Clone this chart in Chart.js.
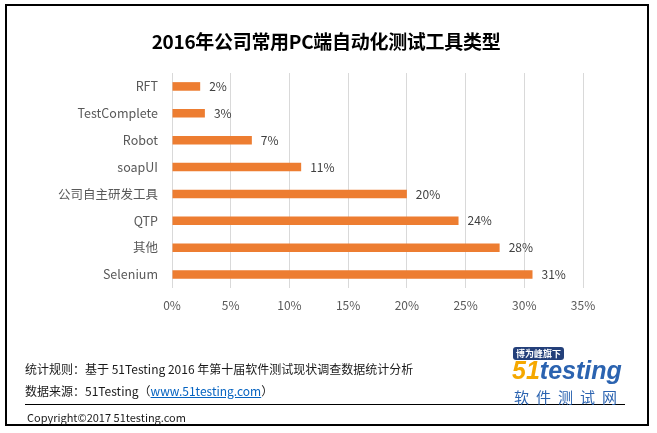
<!DOCTYPE html>
<html>
<head>
<meta charset="utf-8">
<script src="https://cdn.jsdelivr.net/npm/chart.js@4"></script>
<style>
    body { margin: 0; background: #fff; }
    #wrap { position: relative; width: 657px; height: 433px; overflow: hidden; font-family: "Noto Sans CJK SC", "Noto Sans", sans-serif; }
    #frame { position: absolute; left: 5px; top: 4px; width: 640px; height: 418px; border: 2px solid #000; }
    #myChart { position: absolute; left: 0; top: 0; }
    .txt { position: absolute; white-space: nowrap; color: #1a1a1a; }
    #title { left: 0; width: 652px; top: 27px; text-align: center; font-size: 19px; font-weight: bold; color: #000; letter-spacing: -0.3px; }
    #rule { left: 25px; top: 360px; font-size: 12px; }
    #src { left: 25px; top: 382px; font-size: 12px; }
    #src a { color: #0563c1; text-decoration: underline; }
    #sep { position: absolute; left: 25px; top: 404px; width: 600px; height: 1px; background: #000; }
    #copy { left: 27px; top: 409px; font-size: 11px; }
    #tag { left: 513px; top: 347px; font-size: 9px; font-weight: bold; color: #fff; background: #24407a; padding: 0 3px; border-radius: 3px; line-height: 13px; }
    #logo { left: 512px; top: 356px; font-size: 25px; font-weight: bold; font-style: italic; color: #2b63b0; font-family: "Liberation Sans", sans-serif; line-height: 28px; }
    #logo span { color: #f5a800; }
    #logocn { left: 514px; top: 386px; font-size: 15px; color: #2b63b0; letter-spacing: 7px; }
</style>
</head>
<body>
<div id="wrap">
    <canvas id="myChart" width="657" height="433"></canvas>
    <div id="frame"></div>
    <div class="txt" id="title">2016年公司常用PC端自动化测试工具类型</div>
    <div class="txt" id="rule">统计规则：基于 51Testing 2016 年第十届软件测试现状调查数据统计分析</div>
    <div class="txt" id="src">数据来源：51Testing（<a href="#">www.51testing.com</a>）</div>
    <div id="sep"></div>
    <div class="txt" id="copy">Copyright©2017 51testing.com</div>
    <div class="txt" id="tag">博为峰旗下</div>
    <div class="txt" id="logo"><span>51</span>testing</div>
    <div class="txt" id="logocn">软件测试网</div>
</div>
<script>
// 도구별 사용 비율 (%)
var categories = ['RFT', 'TestComplete', 'Robot', 'soapUI', '公司自主研发工具', 'QTP', '其他', 'Selenium'];
var values = [2.4, 2.8, 6.8, 11.0, 20.0, 24.4, 27.9, 30.7];
var xTicks = [0, 5, 10, 15, 20, 25, 30, 35];

var valueLabels = {
    id: 'valueLabels',
    afterDatasetsDraw: function (chart) {
        var ctx = chart.ctx;
        var meta = chart.getDatasetMeta(0);
        ctx.save();
        ctx.font = '12px "Noto Sans CJK SC", sans-serif';
        ctx.fillStyle = '#404040';
        ctx.textAlign = 'left';
        ctx.textBaseline = 'middle';
        meta.data.forEach(function (bar, i) {
            ctx.fillText(Math.round(values[i]) + '%', bar.x + 9, bar.y);
        });
        ctx.restore();
    }
};

const ctx = document.getElementById('myChart').getContext('2d');
const chart = new Chart(ctx, {
    type: 'bar',
    data: {
        labels: categories,
        datasets: [{
            data: values,
            backgroundColor: '#ed7d31',
            borderWidth: 0,
            categoryPercentage: 1,
            barPercentage: 0.32
        }]
    },
    options: {
        indexAxis: 'y',
        responsive: false,
        animation: false,
        layout: { padding: { top: 73, right: 74, bottom: 115, left: 0 } },
        plugins: {
            legend: { display: false },
            tooltip: { enabled: false }
        },
        scales: {
            x: {
                min: 0,
                max: 35,
                afterBuildTicks: function (scale) {
                    scale.ticks = xTicks.map(function (v) { return { value: v }; });
                },
                afterFit: function (scale) { scale.height = 30; },
                grid: { color: '#d9d9d9', drawTicks: false },
                border: { display: false },
                ticks: {
                    padding: 10,
                    color: '#595959',
                    font: { size: 12, family: '"Noto Sans CJK SC", sans-serif' },
                    callback: function (v) { return v + '%'; }
                }
            },
            y: {
                afterFit: function (scale) { scale.width = 172; },
                grid: { display: false },
                border: { display: false },
                ticks: {
                    padding: 6,
                    color: '#595959',
                    font: { size: 12.5, family: '"Noto Sans CJK SC", sans-serif' }
                }
            }
        }
    },
    plugins: [valueLabels]
});
</script>
</body>
</html>
